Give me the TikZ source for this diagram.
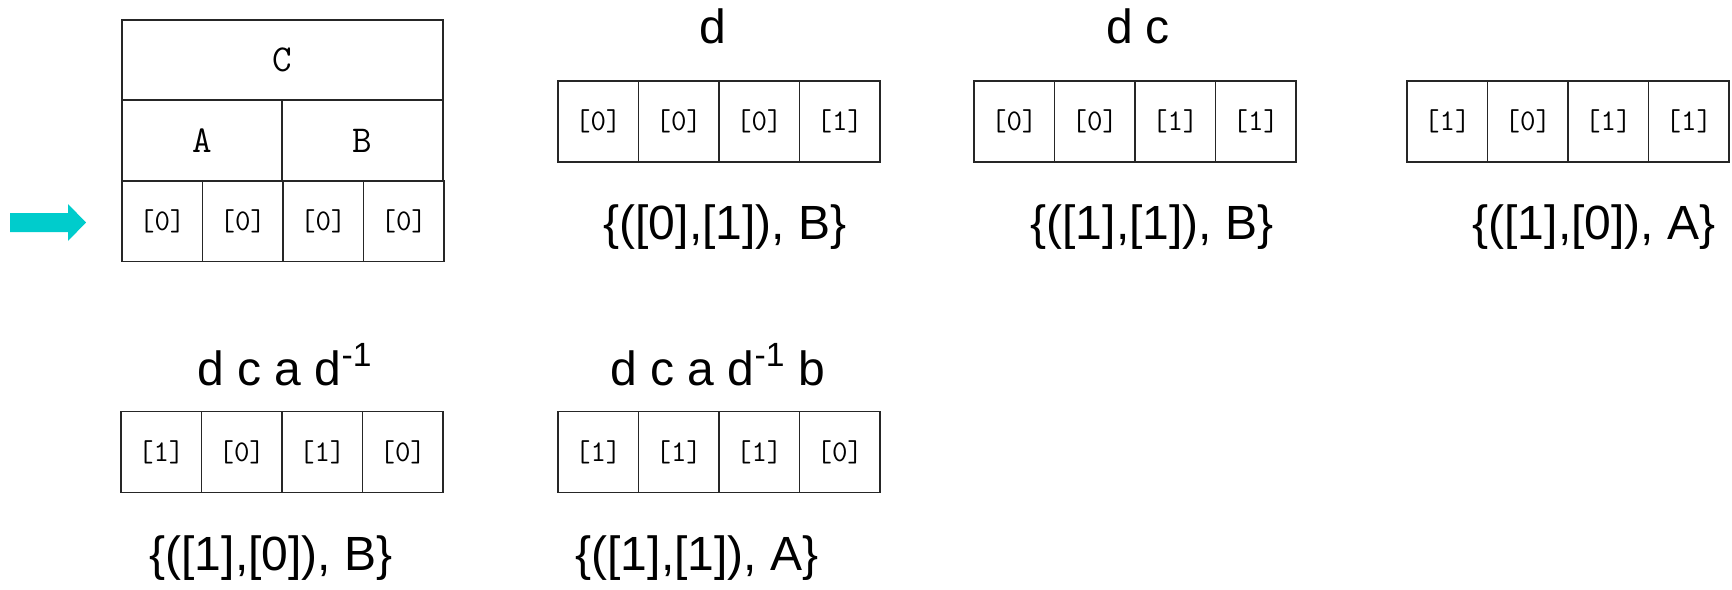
\documentclass[tikz,border=0pt]{standalone}
\usepackage{fontspec}
\setmainfont{Liberation Sans}
\begin{document}
\begin{tikzpicture}[x=0.5pt,y=-0.5pt]
\definecolor{pointer}{RGB}{0,204,204}
\tikzset{
  cell/.style={draw=black!85, line width=0.85pt, inner sep=0pt, outer sep=0pt,
    minimum width=40.25pt, minimum height=40.5pt,
    font=\ttfamily\addfontfeatures{FakeBold=0.6}\fontsize{15}{17}\selectfont},
  head cell/.style={cell,
    font=\ttfamily\addfontfeatures{FakeBold=0.6}\fontsize{19}{21}\selectfont},
  step title/.style={anchor=base, inner sep=0pt, font=\fontsize{24}{28}\selectfont},
  pair label/.style={anchor=base, inner sep=0pt, font=\fontsize{24}{28}\selectfont},
}
% page frame
\useasboundingbox (0,0) rectangle (1732,589);
% a row of four cells: name, left edge, centre y, four values
\newcommand\cellrow[7]{%
  \foreach \v [count=\i from 0] in {#4,#5,#6,#7}
    {\node[cell] (#1-\i) at ({#2+40.25+80.5*\i},#3) {[\v]};}}

% initial table with the tree header
\node[head cell, minimum width=160.5pt, minimum height=40pt] (root) at (282.5,60) {C};
\node[head cell, minimum width=80pt] (nodeA) at (202,140.5) {A};
\node[head cell, minimum width=80.5pt] (nodeB) at (362.5,140.5) {B};
\cellrow{init}{122}{221}{0}{0}{0}{0}
\fill[pointer] (10,213) -- (68,213) -- (68,204) -- (86,222.5) -- (68,241)
  -- (68,232) -- (10,232) -- cycle;

% step d
\node[step title] (t1) at (713,43) {d};
\cellrow{s1}{558}{121.5}{0}{0}{0}{1}
\node[pair label] (p1) at (725,239) {\{([0],[1]), B\}};

% step d c
\node[step title] (t2) at (1138,43) {d c};
\cellrow{s2}{974}{121.5}{0}{0}{1}{1}
\node[pair label] (p2) at (1152,239) {\{([1],[1]), B\}};

% step d c a
\cellrow{s3}{1407}{121.5}{1}{0}{1}{1}
\node[pair label] (p3) at (1594,239) {\{([1],[0]), A\}};

% step d c a d^-1
\node[step title] (t4) at (285,385) {d c a d\textsuperscript{-1}};
\cellrow{s4}{121}{452}{1}{0}{1}{0}
\node[pair label] (p4) at (271,570) {\{([1],[0]), B\}};

% step d c a d^-1 b
\node[step title] (t5) at (718,385) {d c a d\textsuperscript{-1} b};
\cellrow{s5}{558}{452}{1}{1}{1}{0}
\node[pair label] (p5) at (697,570) {\{([1],[1]), A\}};
\end{tikzpicture}
\end{document}
